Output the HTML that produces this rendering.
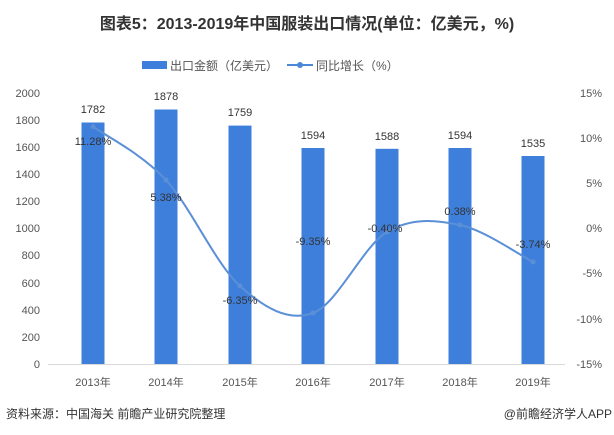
<!DOCTYPE html><html><head><meta charset="utf-8"><style>body{margin:0;background:#fff}svg{display:block}text{font-family:"Liberation Sans","Noto Sans CJK SC",sans-serif}</style></head><body>
<svg width="614" height="435" viewBox="0 0 614 435">
<text x="307" y="29" text-anchor="middle" font-size="16" font-weight="bold" fill="#333">图表5：2013-2019年中国服装出口情况(单位：亿美元，%)</text>
<rect x="142" y="61" width="25" height="8" fill="#3f7fdc"/>
<text x="170" y="70" font-size="12" fill="#555">出口金额（亿美元）</text>
<line x1="287" y1="65" x2="313" y2="65" stroke="#4b88d8" stroke-width="2"/><circle cx="300" cy="65" r="3" fill="#4b88d8"/>
<text x="316" y="70" font-size="12" fill="#555">同比增长（%）</text>
<g font-size="11" fill="#555" text-anchor="end">
<text x="40" y="97">2000</text><text x="40" y="124">1800</text><text x="40" y="151">1600</text><text x="40" y="178">1400</text><text x="40" y="205">1200</text><text x="40" y="232">1000</text><text x="40" y="259">800</text><text x="40" y="287">600</text><text x="40" y="314">400</text><text x="40" y="341">200</text><text x="40" y="368">0</text></g>
<g font-size="11" fill="#555" text-anchor="end">
<text x="602" y="97">15%</text><text x="602" y="142">10%</text><text x="602" y="187">5%</text><text x="602" y="232">0%</text><text x="602" y="277">-5%</text><text x="602" y="323">-10%</text><text x="602" y="368">-15%</text></g>
<line x1="48" y1="364.5" x2="565" y2="364.5" stroke="#d9d9d9"/>
<g fill="#3f7fdc">
<rect x="81.5" y="122.5" width="23" height="241.5"/>
<rect x="154.5" y="109.5" width="23" height="254.5"/>
<rect x="228.5" y="125.6" width="23" height="238.4"/>
<rect x="301.5" y="148" width="23" height="216"/>
<rect x="375.5" y="148.8" width="23" height="215.2"/>
<rect x="448.5" y="148" width="23" height="216"/>
<rect x="521.5" y="156" width="23" height="208"/></g>
<g font-size="11" fill="#333" text-anchor="middle">
<text x="93" y="113">1782</text><text x="166" y="100">1878</text><text x="240" y="116">1759</text><text x="313" y="139">1594</text><text x="387" y="140">1588</text><text x="460" y="139">1594</text><text x="533" y="147">1535</text></g>
<path d="M93,126.6 C105.2,135.5 141.5,153.4 166,180 C190.5,206.6 215.5,263.8 240,286 C264.5,308.2 288.5,322 313,313 C337.5,304 362.5,246.7 387,232 C411.5,217.3 435.7,220 460,225 C484.3,230 520.8,255.8 533,262" fill="none" stroke="#5b8fd6" stroke-width="2"/>
<g fill="#5b8fd6"><circle cx="93" cy="126.6" r="2.5"/><circle cx="166" cy="180" r="2.5"/><circle cx="240" cy="286" r="2.5"/><circle cx="313" cy="313" r="2.5"/><circle cx="387" cy="232" r="2.5"/><circle cx="460" cy="225" r="2.5"/><circle cx="533" cy="262" r="2.5"/></g>
<g font-size="11" fill="#333" text-anchor="middle">
<text x="93" y="145">11.28%</text><text x="166" y="201">5.38%</text><text x="240" y="304">-6.35%</text><text x="313" y="245">-9.35%</text><text x="385" y="232">-0.40%</text><text x="460" y="215">0.38%</text><text x="533" y="248">-3.74%</text></g>
<g font-size="11" fill="#555" text-anchor="middle">
<text x="93" y="386">2013年</text><text x="166" y="386">2014年</text><text x="240" y="386">2015年</text><text x="313" y="386">2016年</text><text x="387" y="386">2017年</text><text x="460" y="386">2018年</text><text x="533" y="386">2019年</text></g>
<text x="6" y="418" font-size="12" fill="#333">资料来源：中国海关 前瞻产业研究院整理</text>
<text x="612" y="418" font-size="12" fill="#333" text-anchor="end">@前瞻经济学人APP</text>
</svg></body></html>
